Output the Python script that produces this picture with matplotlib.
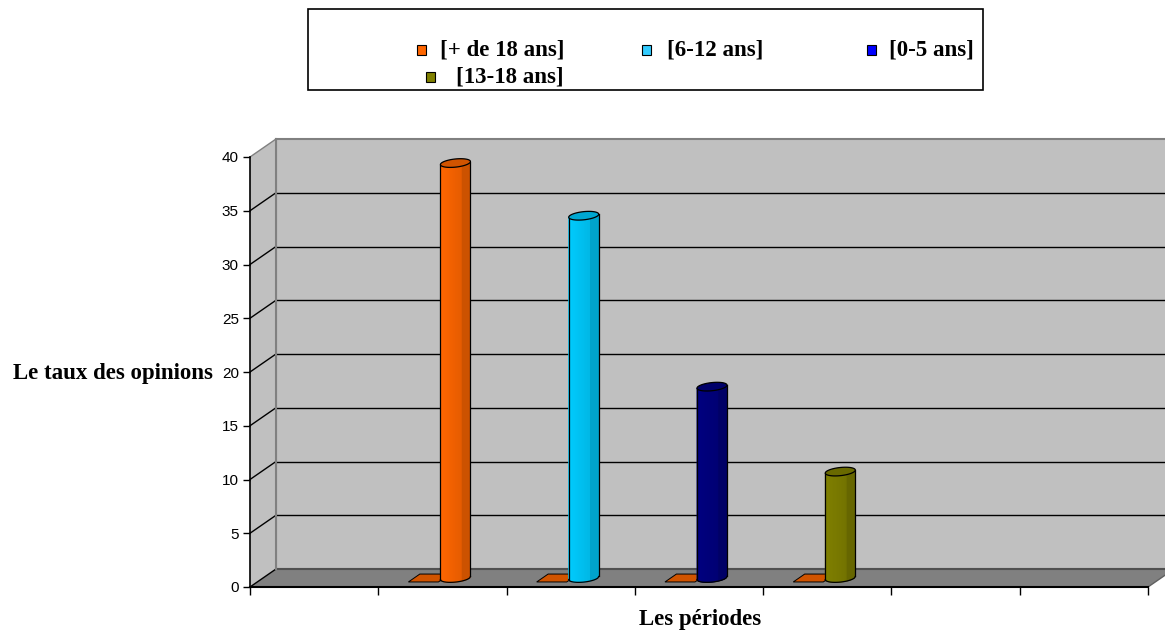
import numpy as np
import matplotlib.pyplot as plt
from matplotlib.patches import Polygon, Rectangle
import matplotlib.colors as mcolors

# Données : taux des opinions par tranche d'âge
periodes = ['[+ de 18 ans]', '[6-12 ans]', '[0-5 ans]', '[13-18 ans]']
taux = [38.6, 33.7, 17.8, 9.9]
serie_vide = [0, 0, 0, 0]
couleurs_barres = ['#ff6600', '#00ccff', '#000080', '#808000']
couleurs_legende = ['#ff6600', '#33ccff', '#0000ff', '#808000']
graduations = [0, 5, 10, 15, 20, 25, 30, 35, 40]

N_CASES = 7            # nombre d'intervalles sur l'axe des x
DX, DY = 0.2027, 1.674 # profondeur de la vue 3D (en unites de donnees)
LARG = 0.234           # diametre des cylindres

W, H = 1165, 633
fig = plt.figure(figsize=(W / 100, H / 100), dpi=100)
ax = fig.add_axes([250 / W, 46 / H, 898 / W, 430 / H])
ax.set_xlim(0, N_CASES)
ax.set_ylim(0, 40)
ax.patch.set_visible(False)

# Murs et sol
mur_fond = Polygon([(DX, DY), (N_CASES + DX, DY), (N_CASES + DX, 40 + DY), (DX, 40 + DY)],
                   closed=True, fc='#c0c0c0', ec='#808080', lw=1.5, clip_on=False, zorder=0.5)
mur_gauche = Polygon([(0, 0), (DX, DY), (DX, 40 + DY), (0, 40)],
                     closed=True, fc='#c0c0c0', ec='none', clip_on=False, zorder=0.5)
sol = Polygon([(0, 0), (N_CASES, 0), (N_CASES + DX, DY), (DX, DY)],
              closed=True, fc='#808080', ec='none', clip_on=False, zorder=0.6)
for p in (mur_fond, mur_gauche, sol):
    ax.add_patch(p)

# Quadrillage sur le mur du fond et le mur de gauche
for v in graduations:
    c = '#808080' if v == 40 else 'black'
    ax.plot([0, DX], [v, v + DY], color=c, lw=1, clip_on=False, zorder=1)
    if 0 < v < 40:
        ax.plot([DX, N_CASES + DX], [v + DY, v + DY], color='black', lw=1,
                clip_on=False, zorder=1)
ax.plot([DX, N_CASES + DX], [DY, DY], color='#505050', lw=1.5, clip_on=False, zorder=1)
ax.plot([DX, DX], [DY, 40 + DY], color='#808080', lw=1.5, clip_on=False, zorder=1)
ax.plot([N_CASES, N_CASES + DX], [0, DY], color='#606060', lw=1, clip_on=False, zorder=1)


def ombre(couleur, f):
    r, g, b = mcolors.to_rgb(couleur)
    return (r * f, g * f, b * f)


def cylindre(xc, hauteur, couleur):
    a = LARG / 2
    b = 0.38
    k = 0.14
    z0 = DY / 2
    top = hauteur + DY / 2
    n = 40
    xs = np.linspace(xc - a, xc + a, n + 1)
    t = (xs - xc) / a
    demi = b * np.sqrt(np.clip(1 - t ** 2, 0, 1))
    bas = z0 - demi + k * t
    haut = top - demi + k * t
    for j in range(n):
        tm = (t[j] + t[j + 1]) / 2
        if tm < 0.45:
            f = 1.0 - 0.10 * (tm + 1) / 1.45
        else:
            f = 0.80
        col = ombre(couleur, f)
        ax.add_patch(Polygon([(xs[j], bas[j]), (xs[j + 1], bas[j + 1]),
                              (xs[j + 1], haut[j + 1]), (xs[j], haut[j])],
                             closed=True, fc=col, ec=col, lw=0.6,
                             clip_on=False, zorder=3))
    # contour du corps
    ax.plot(xs, bas, color='black', lw=0.9, clip_on=False, zorder=4)
    ax.plot([xs[0], xs[0]], [bas[0], haut[0]], color='black', lw=0.9, clip_on=False, zorder=4)
    ax.plot([xs[-1], xs[-1]], [bas[-1], haut[-1]], color='black', lw=0.9, clip_on=False, zorder=4)
    # dessus
    th = np.linspace(0, 2 * np.pi, 80)
    ex = xc + a * np.cos(th)
    ey = top + b * np.sin(th) + k * np.cos(th)
    ax.add_patch(Polygon(np.column_stack([ex, ey]), closed=True,
                         fc=ombre(couleur, 0.82), ec='black', lw=0.9,
                         clip_on=False, zorder=4))


def barre_plate(xc, couleur):
    x0, x1 = xc - LARG / 2, xc + LARG / 2
    p0, p1 = 0.28, 0.72
    pts = [(x0 + p0 * DX, p0 * DY), (x1 + p0 * DX, p0 * DY),
           (x1 + p1 * DX, p1 * DY), (x0 + p1 * DX, p1 * DY)]
    ax.add_patch(Polygon(pts, closed=True, fc=ombre(couleur, 0.82), ec='black',
                         lw=0.7, clip_on=False, zorder=2))


positions = np.arange(len(periodes)) + 1.5
for x, v in zip(positions, serie_vide):
    barre_plate(x - 0.205, couleurs_barres[0])
for x, v, c in zip(positions, taux, couleurs_barres):
    cylindre(x + DX / 2, v, c)

# Axes
for s in ('top', 'right'):
    ax.spines[s].set_visible(False)
ax.spines['left'].set_color('black')
ax.spines['left'].set_linewidth(1.2)
ax.spines['bottom'].set_color('black')
ax.spines['bottom'].set_linewidth(1.5)
ax.spines['left'].set_zorder(5)
ax.spines['bottom'].set_zorder(5)

ax.set_yticks(graduations)
ax.tick_params(axis='y', direction='out', length=5, width=1, pad=3,
               labelsize=11, colors='black')
for lab in ax.get_yticklabels():
    lab.set_family('Liberation Sans')
ax.set_xticks(np.arange(N_CASES + 1))
ax.set_xticklabels([])
ax.tick_params(axis='x', direction='out', length=6, width=1)
ax.xaxis.get_major_ticks()[-1].tick1line.set_color('#808080')

police = dict(family='Liberation Serif', weight='bold', size=16.5)
fig.text(113 / W, 1 - 373 / H, 'Le taux des opinions', ha='center', va='center', **police)
fig.text(700 / W, 1 - 620 / H, 'Les périodes', ha='center', va='center', **police)

# Legende
fig.patches.append(Rectangle((308 / W, 1 - 90 / H), 675 / W, 81 / H,
                             transform=fig.transFigure, fill=False,
                             ec='black', lw=1.2))
cases_leg = [(417, 440, 50), (642, 667, 50), (867, 889, 50), (426, 456, 77)]
for (mx, tx, ty), nom, c in zip(cases_leg, periodes, couleurs_legende):
    fig.patches.append(Rectangle((mx / W, 1 - (ty + 4.5) / H), 9 / W, 9 / H,
                                 transform=fig.transFigure, fc=c,
                                 ec='black', lw=0.8))
    fig.text(tx / W, 1 - ty / H, nom, ha='left', va='center', **police)

fig.savefig('out.png', dpi=100)
